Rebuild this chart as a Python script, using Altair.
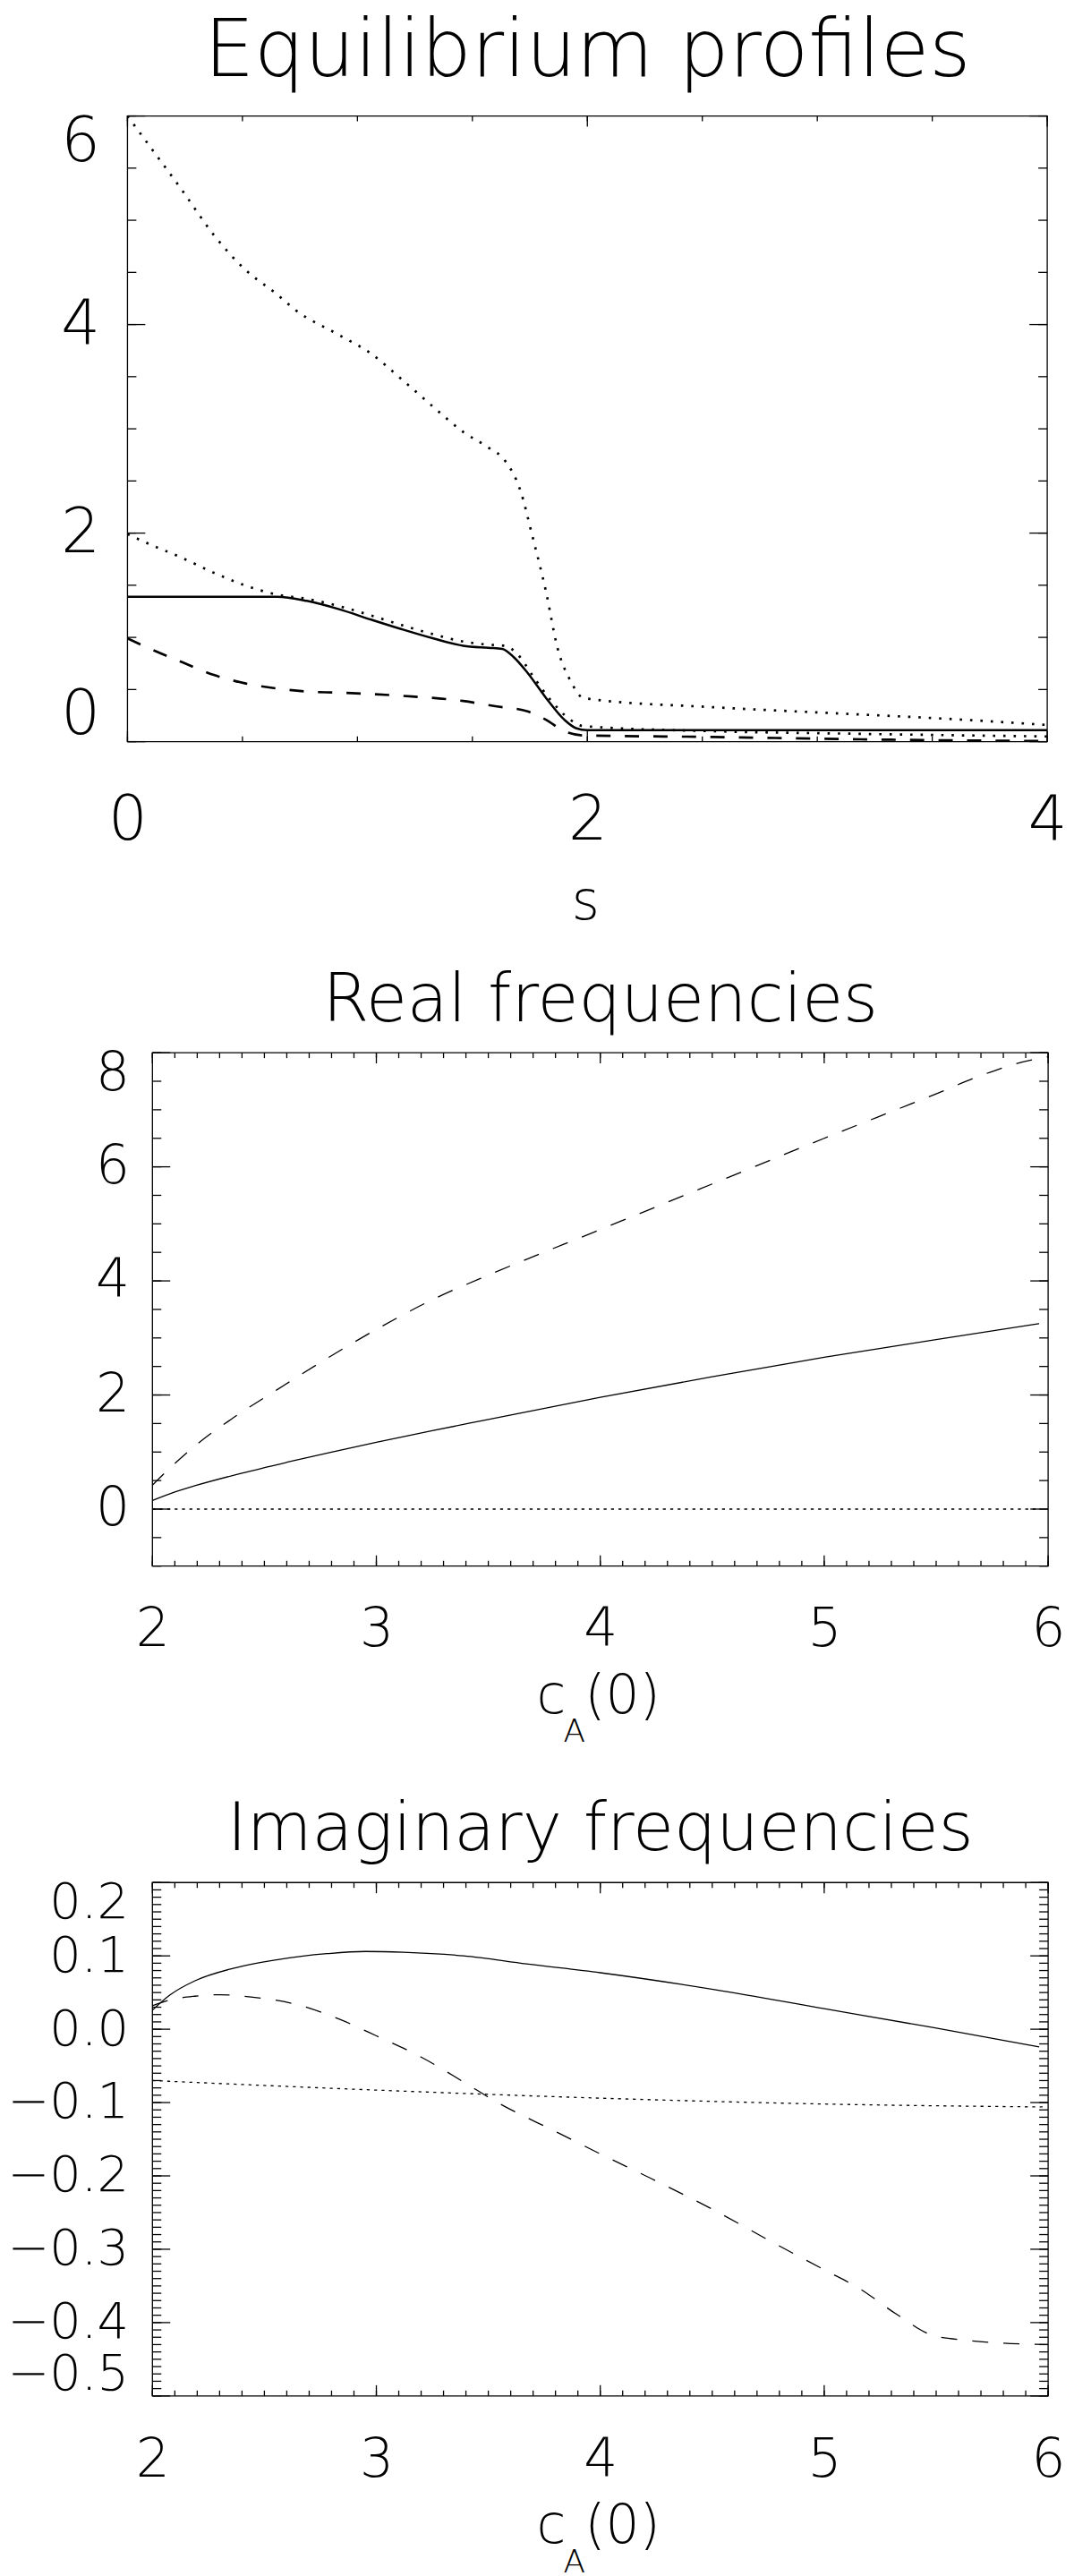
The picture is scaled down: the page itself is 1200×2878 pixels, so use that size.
import altair as alt
import numpy as np
import pandas as pd

FONT = "DejaVu Sans"
FW = 200
INK = "#000000"

# ---------------- Panel 1: Equilibrium profiles ----------------
P1_UPPER_S = [0.0, 0.10, 0.24, 0.375, 0.51, 0.65, 0.73, 0.92, 1.06, 1.19, 1.33, 1.46, 1.57, 1.64,
              1.71, 1.76, 1.82, 1.87, 1.93, 1.98, 2.01, 2.55, 3.10, 3.64, 4.0]
P1_UPPER_V = [6.0, 5.70, 5.28, 4.86, 4.53, 4.29, 4.14, 3.90, 3.72, 3.48, 3.21, 2.97, 2.82, 2.70,
              2.40, 1.98, 1.44, 0.90, 0.57, 0.42, 0.41, 0.33, 0.27, 0.21, 0.16]

P1_MID_S = [0.0, 0.10, 0.24, 0.375, 0.51, 0.65, 0.78, 0.92, 1.06, 1.19, 1.33, 1.46, 1.57, 1.64,
            1.70, 1.76, 1.84, 1.92, 1.98, 2.55, 3.10, 4.0]
P1_MID_V = [1.99, 1.89, 1.76, 1.62, 1.50, 1.41, 1.37, 1.30, 1.21, 1.12, 1.03, 0.96, 0.93, 0.92,
            0.83, 0.64, 0.40, 0.22, 0.15, 0.10, 0.078, 0.05]

P1_SOLID_S = [0.0, 0.30, 0.50, 0.65, 0.78, 0.92, 1.06, 1.19, 1.33, 1.46, 1.57, 1.63, 1.68, 1.74,
              1.82, 1.90, 1.95, 2.0, 3.0, 4.0]
P1_SOLID_V = [1.39, 1.39, 1.39, 1.39, 1.35, 1.27, 1.17, 1.08, 0.99, 0.92, 0.90, 0.89, 0.81, 0.66,
              0.42, 0.21, 0.13, 0.11, 0.11, 0.11]

P1_DASH_S = [0.0, 0.10, 0.24, 0.375, 0.51, 0.65, 0.78, 0.92, 1.19, 1.46, 1.60, 1.74, 1.82, 1.90,
             1.98, 2.55, 3.10, 4.0]
P1_DASH_V = [0.99, 0.89, 0.76, 0.64, 0.56, 0.51, 0.48, 0.47, 0.44, 0.39, 0.34, 0.29, 0.21, 0.10,
             0.06, 0.045, 0.025, 0.005]

P1_X_RANGE = [0, 4]
P1_Y_RANGE = [0, 6]
P1_X_LABELS = [0, 2, 4]
P1_Y_LABELS = [0, 2, 4, 6]

# ---------------- Panel 2: Real frequencies ----------------
P2_SOLID_X = [2.0, 2.1, 2.2, 2.4, 2.6, 2.8, 3.0, 3.25, 3.5, 4.0, 4.5, 5.0, 5.5, 5.96]
P2_SOLID_Y = [0.15, 0.30, 0.42, 0.63, 0.82, 1.00, 1.17, 1.375, 1.57, 1.96, 2.32, 2.66, 2.97, 3.25]

P2_DASH_X = [2.0, 2.1, 2.2, 2.35, 2.56, 2.75, 3.0, 3.25, 3.53, 4.0, 4.5, 5.0, 5.5, 5.7, 5.85, 6.0]
P2_DASH_Y = [0.42, 0.80, 1.14, 1.57, 2.10, 2.57, 3.15, 3.67, 4.15, 4.90, 5.70, 6.50, 7.28, 7.60,
             7.80, 7.93]

P2_DOT_X = [2.0, 5.96]
P2_DOT_Y = [0.0, 0.0]

P2_X_RANGE = [2, 6]
P2_Y_RANGE = [-1, 8]
P2_X_LABELS = [2, 3, 4, 5, 6]
P2_Y_LABELS = [0, 2, 4, 6, 8]

# ---------------- Panel 3: Imaginary frequencies ----------------
P3_SOLID_X = [2.0, 2.08, 2.19, 2.36, 2.56, 2.78, 2.95, 3.12, 3.39, 3.67, 4.0, 4.51, 5.0, 5.49, 5.96]
P3_SOLID_Y = [0.026, 0.047, 0.066, 0.083, 0.095, 0.103, 0.106, 0.105, 0.100, 0.089, 0.077, 0.054,
              0.028, 0.002, -0.024]

P3_DASH_X = [2.0, 2.08, 2.19, 2.30, 2.44, 2.64, 2.84, 3.0, 3.20, 3.39, 3.53, 3.81, 4.0, 4.23,
             4.51, 4.79, 5.0, 5.16, 5.32, 5.49, 5.63, 5.80, 6.0]
P3_DASH_Y = [0.032, 0.040, 0.045, 0.047, 0.044, 0.034, 0.013, -0.009, -0.038, -0.072, -0.098,
             -0.141, -0.170, -0.204, -0.247, -0.294, -0.328, -0.354, -0.388, -0.418, -0.424,
             -0.428, -0.430]

P3_DOT_X = [2.0, 3.0, 4.0, 5.0, 5.98]
P3_DOT_Y = [-0.070, -0.083, -0.094, -0.102, -0.106]

P3_X_RANGE = [2, 6]
P3_Y_RANGE = [-0.5, 0.2]
P3_X_LABELS = [2, 3, 4, 5, 6]
P3_Y_LABELS = [-0.5, -0.4, -0.3, -0.2, -0.1, 0.0, 0.1, 0.2]


def ticks(lo, hi, step):
    n = int(round((hi - lo) / step))
    return [round(lo + i * step, 4) for i in range(n + 1)]


def make_axis(values, size, pad, fmt, flush, offset=0):
    kw = dict(values=values, format=fmt, labelFont=FONT, labelFontSize=size,
              labelFontWeight=FW, labelColor=INK, labelPadding=pad, ticks=False,
              domain=False, grid=False, title=None, labelOverlap=False,
              labelBound=False)
    if flush:
        kw["labelFlush"] = True
        kw["labelFlushOffset"] = 5
    else:
        kw["labelFlush"] = False
    if offset:
        kw["offset"] = offset
    return alt.Axis(**kw)


def panel(W, H, lead, xrange_, yrange_, xlab, ylab, xsize, ysize, xpad, ypad, yfmt,
          lines, xminor_step, yminor_step, texts):
    # "lead" = blank strip (px) left of the frame inside the panel's plot group
    span = xrange_[1] - xrange_[0]
    xlo = xrange_[0] - lead * span / (W - lead)
    xs = alt.Scale(domain=[xlo, xrange_[1]], nice=False, zero=False)
    ys = alt.Scale(domain=list(yrange_), nice=False, zero=False)
    xaxis = make_axis(xlab, xsize, xpad, "d", False)
    yaxis = make_axis(ylab, ysize, ypad, yfmt, True, -lead)
    X = lambda f: alt.X(f, scale=xs, axis=xaxis)
    Y = lambda f: alt.Y(f, scale=ys, axis=yaxis)

    layers = []
    # frame
    frame = pd.DataFrame({"x": [xrange_[0]], "x2": [xrange_[1]],
                          "y": [yrange_[0]], "y2": [yrange_[1]]})
    layers.append(alt.Chart(frame).mark_rect(fillOpacity=0, stroke=INK, strokeWidth=1.3)
                  .encode(x=X("x:Q"), x2="x2:Q", y=Y("y:Q"), y2="y2:Q"))
    # curves
    for (lx, ly, w, d) in lines:
        kw = dict(color=INK, strokeWidth=w, interpolate="monotone", clip=True)
        if d:
            kw["strokeDash"] = d
        layers.append(alt.Chart(pd.DataFrame({"x": lx, "y": ly})).mark_line(**kw)
                      .encode(x=X("x:Q"), y=Y("y:Q")))
    # x ticks (top & bottom)
    for vals, ln in ((ticks(xrange_[0], xrange_[1], xminor_step), 6), (xlab, 12)):
        base = alt.Chart(pd.DataFrame({"x": vals})).mark_rule(color=INK, strokeWidth=1.3)
        layers.append(base.encode(x=X("x:Q"), y=alt.value(H), y2=alt.value(H - ln)))
        layers.append(base.encode(x=X("x:Q"), y=alt.value(0), y2=alt.value(ln)))
    # y ticks (left & right)
    for vals, ln in ((ticks(yrange_[0], yrange_[1], yminor_step), 10), (ylab, 20)):
        df = pd.DataFrame({"y": vals})
        left = alt.Chart(df).mark_rule(color=INK, strokeWidth=1.3, xOffset=lead, x2Offset=lead)
        right = alt.Chart(df).mark_rule(color=INK, strokeWidth=1.3)
        layers.append(left.encode(y=Y("y:Q"), x=alt.value(0), x2=alt.value(ln)))
        layers.append(right.encode(y=Y("y:Q"), x=alt.value(W), x2=alt.value(W - ln)))
    # texts (title, axis title); y given as alphabetic baseline
    for (txt, tx, ty, size, align) in texts:
        layers.append(
            alt.Chart(pd.DataFrame({"t": [txt]})).mark_text(
                align=align, baseline="top", font=FONT, fontSize=size,
                fontWeight=FW, color=INK
            ).encode(text="t:N", x=alt.value(lead + tx), y=alt.value(ty - 0.79 * size))
        )
    return alt.layer(*layers).properties(width=W, height=H)


# ---------------- panel 1 ----------------
W1, H1 = 1032, 702
p1 = panel(
    W1, H1, 0, P1_X_RANGE, P1_Y_RANGE, P1_X_LABELS, P1_Y_LABELS, 69, 69, 54, 31, "d",
    [(P1_SOLID_S, P1_SOLID_V, 2.5, None),
     (P1_UPPER_S, P1_UPPER_V, 2.7, [2.6, 9]),
     (P1_MID_S, P1_MID_V, 2.7, [2.6, 9]),
     (P1_DASH_S, P1_DASH_V, 2.7, [16, 16])],
    0.5, 0.5,
    [("Equilibrium profiles", W1 / 2, -44, 89, "center"),
     ("s", W1 / 2 - 2, H1 + 200, 60, "center")],
)

# ---------------- panel 2 ----------------
LEAD = 28
W2, H2 = 1005 + LEAD, 576
p2 = panel(
    W2, H2, LEAD, P2_X_RANGE, P2_Y_RANGE, P2_X_LABELS, P2_Y_LABELS, 60, 60, 42, 26, "d",
    [(P2_SOLID_X, P2_SOLID_Y, 1.3, None),
     (P2_DASH_X, P2_DASH_Y, 1.3, [18, 17]),
     (P2_DOT_X, P2_DOT_Y, 1.3, [3.3, 5])],
    0.1, 0.5,
    [("Real frequencies", 1005 / 2, -35, 75, "center"),
     ("c", 431, H2 + 165, 60, "left"), ("A", 461, H2 + 198, 36, "left"),
     ("(0)", 485, H2 + 165, 60, "left")],
)

# ---------------- panel 3 ----------------
W3, H3 = 1005 + LEAD, 576
p3 = panel(
    W3, H3, LEAD, P3_X_RANGE, P3_Y_RANGE, P3_X_LABELS, P3_Y_LABELS, 60, 56, 43, 27, ".1f",
    [(P3_SOLID_X, P3_SOLID_Y, 1.3, None),
     (P3_DASH_X, P3_DASH_Y, 1.3, [18, 17]),
     (P3_DOT_X, P3_DOT_Y, 1.3, [3.3, 5])],
    0.1, 0.01,
    [("Imaginary frequencies", 1005 / 2, -36, 75, "center"),
     ("c", 431, H3 + 165, 60, "left"), ("A", 461, H3 + 198, 36, "left"),
     ("(0)", 485, H3 + 165, 60, "left")],
)

inner = alt.concat(p1, p2, columns=1, spacing=41)
chart = alt.concat(inner, p3, columns=1, spacing=53).properties(
    padding=0, background="white"
).configure_view(strokeOpacity=0)

chart.save("out.html", embed_options={"renderer": "svg", "actions": False})
